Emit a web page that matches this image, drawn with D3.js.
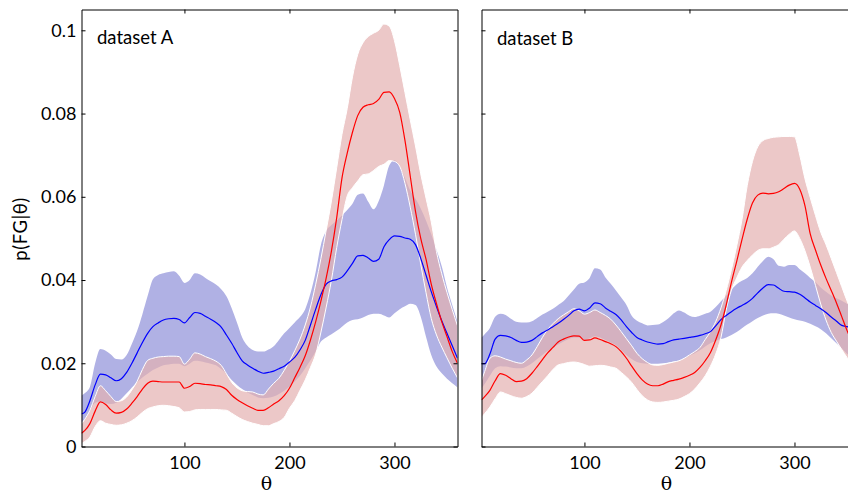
<!DOCTYPE html>
<html>
<head>
<meta charset="utf-8">
<script src="https://cdn.jsdelivr.net/npm/d3@7"></script>
<style>
  html, body { margin: 0; padding: 0; background: #fff; }
</style>
</head>
<body>
<div id="chart"></div>
<script>
// angle samples shared by every series
const theta = [2, 5, 10, 15, 20, 25, 30, 35, 40, 45, 50, 55, 60, 65, 70, 75, 80, 85, 90, 95,
  100, 105, 110, 115, 120, 125, 130, 135, 140, 145, 150, 155, 160, 165, 170, 175, 180, 185, 190, 195,
  200, 205, 210, 215, 220, 225, 230, 235, 240, 245, 250, 255, 260, 265, 270, 275, 280, 285, 290, 295,
  300, 305, 310, 315, 320, 325, 330, 335, 340, 345, 350, 355, 360];

// dataset A
const blueMeanA = [0.0078,0.0082,0.0110,0.0148,0.0174,0.0172,0.0165,0.0158,0.0163,0.0178,
  0.0200,0.0225,0.0250,0.0272,0.0288,0.0297,0.0304,0.0307,0.0308,0.0305,
  0.0297,0.0310,0.0322,0.0320,0.0313,0.0306,0.0298,0.0287,0.0268,0.0248,
  0.0226,0.0206,0.0196,0.0188,0.0181,0.0176,0.0178,0.0181,0.0187,0.0193,
  0.0203,0.0214,0.0232,0.0255,0.0292,0.0330,0.0365,0.0390,0.0398,0.0401,
  0.0407,0.0422,0.0440,0.0458,0.0459,0.0453,0.0445,0.0450,0.0480,0.0497,
  0.0506,0.0505,0.0501,0.0498,0.0485,0.0452,0.0412,0.0372,0.0336,0.0302,
  0.0272,0.0242,0.0212];
const blueHiA = [0.0122,0.0128,0.0143,0.0200,0.0234,0.0230,0.0221,0.0210,0.0209,0.0220,
  0.0247,0.0278,0.0318,0.0362,0.0402,0.0412,0.0416,0.0419,0.0421,0.0410,
  0.0393,0.0400,0.0416,0.0413,0.0405,0.0397,0.0389,0.0378,0.0361,0.0332,
  0.0298,0.0262,0.0242,0.0232,0.0228,0.0228,0.0233,0.0241,0.0256,0.0272,
  0.0285,0.0298,0.0311,0.0330,0.0368,0.0420,0.0485,0.0518,0.0532,0.0543,
  0.0555,0.0568,0.0583,0.0605,0.0608,0.0588,0.0570,0.0590,0.0628,0.0675,
  0.0688,0.0673,0.0645,0.0615,0.0595,0.0572,0.0543,0.0510,0.0473,0.0433,
  0.0382,0.0340,0.0300];
const blueLoA = [0.0058,0.0065,0.0085,0.0105,0.0108,0.0104,0.0102,0.0105,0.0115,0.0128,
  0.0142,0.0155,0.0166,0.0175,0.0184,0.0190,0.0195,0.0197,0.0199,0.0199,
  0.0193,0.0199,0.0206,0.0205,0.0202,0.0199,0.0195,0.0186,0.0174,0.0160,
  0.0148,0.0138,0.0130,0.0124,0.0118,0.0116,0.0117,0.0120,0.0126,0.0134,
  0.0144,0.0156,0.0170,0.0188,0.0207,0.0228,0.0252,0.0262,0.0270,0.0278,
  0.0288,0.0298,0.0304,0.0306,0.0310,0.0316,0.0319,0.0319,0.0315,0.0310,
  0.0320,0.0330,0.0337,0.0343,0.0340,0.0312,0.0264,0.0220,0.0192,0.0176,
  0.0163,0.0152,0.0142];
const redMeanA = [0.0032,0.0038,0.0055,0.0085,0.0107,0.0101,0.0088,0.0080,0.0082,0.0090,
  0.0104,0.0120,0.0138,0.0152,0.0157,0.0156,0.0155,0.0155,0.0155,0.0155,
  0.0140,0.0144,0.0152,0.0151,0.0149,0.0148,0.0146,0.0144,0.0137,0.0123,
  0.0113,0.0105,0.0098,0.0092,0.0087,0.0087,0.0093,0.0102,0.0110,0.0122,
  0.0140,0.0165,0.0190,0.0218,0.0256,0.0300,0.0350,0.0405,0.0470,0.0550,
  0.0645,0.0705,0.0755,0.0795,0.0815,0.0821,0.0824,0.0834,0.0851,0.0852,
  0.0836,0.0803,0.0735,0.0650,0.0565,0.0500,0.0450,0.0390,0.0343,0.0300,
  0.0264,0.0228,0.0200];
const redHiA = [0.0054,0.0065,0.0087,0.0120,0.0146,0.0134,0.0120,0.0108,0.0110,0.0119,
  0.0136,0.0157,0.0185,0.0207,0.0212,0.0215,0.0216,0.0217,0.0217,0.0216,
  0.0198,0.0210,0.0225,0.0222,0.0216,0.0211,0.0205,0.0195,0.0175,0.0154,
  0.0141,0.0134,0.0132,0.0131,0.0126,0.0124,0.0138,0.0152,0.0164,0.0183,
  0.0205,0.0230,0.0258,0.0292,0.0335,0.0390,0.0452,0.0520,0.0590,0.0670,
  0.0750,0.0812,0.0888,0.0942,0.0970,0.0985,0.0993,0.1000,0.1015,0.1010,
  0.0975,0.0915,0.0850,0.0785,0.0722,0.0655,0.0597,0.0540,0.0468,0.0415,
  0.0370,0.0329,0.0290];
const redLoA = [0.0007,0.0012,0.0023,0.0048,0.0062,0.0056,0.0053,0.0051,0.0052,0.0056,
  0.0062,0.0071,0.0082,0.0091,0.0095,0.0098,0.0099,0.0098,0.0096,0.0093,
  0.0083,0.0084,0.0088,0.0089,0.0089,0.0089,0.0089,0.0088,0.0087,0.0080,
  0.0072,0.0065,0.0060,0.0056,0.0053,0.0050,0.0050,0.0055,0.0060,0.0070,
  0.0092,0.0110,0.0135,0.0160,0.0190,0.0222,0.0275,0.0335,0.0400,0.0478,
  0.0545,0.0602,0.0622,0.0638,0.0653,0.0655,0.0663,0.0673,0.0678,0.0687,
  0.0685,0.0673,0.0632,0.0575,0.0510,0.0438,0.0370,0.0308,0.0268,0.0239,
  0.0213,0.0188,0.0165];

// dataset B
const blueMeanB = [0.0199,0.0199,0.0222,0.0258,0.0267,0.0266,0.0262,0.0255,0.0250,0.0251,
  0.0255,0.0264,0.0273,0.0280,0.0288,0.0296,0.0305,0.0315,0.0326,0.0330,
  0.0326,0.0333,0.0345,0.0343,0.0333,0.0325,0.0317,0.0304,0.0288,0.0274,
  0.0262,0.0256,0.0251,0.0248,0.0246,0.0247,0.0252,0.0256,0.0258,0.0260,
  0.0262,0.0264,0.0267,0.0271,0.0276,0.0290,0.0305,0.0315,0.0324,0.0332,
  0.0339,0.0346,0.0356,0.0369,0.0381,0.0389,0.0388,0.0380,0.0373,0.0372,
  0.0371,0.0366,0.0357,0.0347,0.0339,0.0331,0.0322,0.0311,0.0301,0.0291,
  0.0288,0.0286,0.0285];
const blueHiB = [0.0262,0.0270,0.0285,0.0312,0.0319,0.0316,0.0307,0.0300,0.0298,0.0298,
  0.0301,0.0309,0.0317,0.0324,0.0331,0.0340,0.0349,0.0363,0.0377,0.0391,
  0.0394,0.0405,0.0428,0.0425,0.0406,0.0391,0.0375,0.0358,0.0340,0.0314,
  0.0302,0.0296,0.0291,0.0292,0.0293,0.0299,0.0308,0.0320,0.0327,0.0322,
  0.0314,0.0311,0.0314,0.0319,0.0324,0.0335,0.0349,0.0362,0.0377,0.0390,
  0.0398,0.0405,0.0416,0.0432,0.0446,0.0456,0.0450,0.0434,0.0432,0.0436,
  0.0436,0.0426,0.0416,0.0405,0.0395,0.0382,0.0372,0.0363,0.0356,0.0350,
  0.0343,0.0338,0.0333];
const blueLoB = [0.0140,0.0150,0.0170,0.0188,0.0193,0.0192,0.0190,0.0188,0.0188,0.0192,
  0.0200,0.0210,0.0220,0.0230,0.0238,0.0245,0.0252,0.0258,0.0262,0.0262,
  0.0256,0.0260,0.0265,0.0262,0.0256,0.0250,0.0243,0.0232,0.0220,0.0210,
  0.0203,0.0200,0.0199,0.0199,0.0199,0.0200,0.0202,0.0204,0.0206,0.0212,
  0.0218,0.0224,0.0231,0.0240,0.0248,0.0254,0.0258,0.0262,0.0268,0.0275,
  0.0284,0.0293,0.0301,0.0309,0.0315,0.0319,0.0320,0.0319,0.0315,0.0310,
  0.0306,0.0303,0.0300,0.0295,0.0289,0.0282,0.0272,0.0260,0.0248,0.0236,
  0.0223,0.0212,0.0200];
const redMeanB = [0.0112,0.0120,0.0135,0.0158,0.0175,0.0171,0.0163,0.0156,0.0157,0.0163,
  0.0176,0.0192,0.0209,0.0225,0.0238,0.0251,0.0258,0.0263,0.0266,0.0265,
  0.0255,0.0256,0.0261,0.0257,0.0252,0.0247,0.0240,0.0228,0.0212,0.0193,
  0.0175,0.0160,0.0150,0.0146,0.0146,0.0150,0.0156,0.0159,0.0162,0.0166,
  0.0171,0.0178,0.0190,0.0206,0.0226,0.0256,0.0292,0.0340,0.0395,0.0445,
  0.0497,0.0546,0.0585,0.0604,0.0609,0.0607,0.0608,0.0612,0.0620,0.0628,
  0.0632,0.0618,0.0578,0.0511,0.0472,0.0436,0.0404,0.0375,0.0345,0.0312,
  0.0279,0.0250,0.0222];
const redHiB = [0.0158,0.0180,0.0212,0.0218,0.0215,0.0210,0.0206,0.0202,0.0200,0.0208,
  0.0220,0.0240,0.0262,0.0281,0.0295,0.0307,0.0316,0.0324,0.0331,0.0326,
  0.0318,0.0322,0.0328,0.0322,0.0315,0.0306,0.0292,0.0276,0.0259,0.0242,
  0.0224,0.0211,0.0202,0.0196,0.0195,0.0197,0.0200,0.0203,0.0206,0.0212,
  0.0220,0.0228,0.0238,0.0257,0.0276,0.0300,0.0333,0.0375,0.0425,0.0482,
  0.0545,0.0627,0.0685,0.0720,0.0735,0.0740,0.0743,0.0744,0.0745,0.0745,
  0.0744,0.0700,0.0643,0.0598,0.0555,0.0515,0.0485,0.0452,0.0418,0.0384,
  0.0350,0.0320,0.0290];
const redLoB = [0.0070,0.0079,0.0095,0.0115,0.0131,0.0127,0.0122,0.0118,0.0116,0.0120,
  0.0128,0.0142,0.0156,0.0170,0.0185,0.0196,0.0199,0.0202,0.0203,0.0201,
  0.0197,0.0193,0.0194,0.0195,0.0194,0.0191,0.0188,0.0178,0.0167,0.0154,
  0.0137,0.0122,0.0112,0.0107,0.0106,0.0107,0.0109,0.0111,0.0114,0.0120,
  0.0127,0.0138,0.0153,0.0170,0.0193,0.0222,0.0262,0.0328,0.0376,0.0405,
  0.0431,0.0447,0.0460,0.0471,0.0475,0.0475,0.0479,0.0485,0.0498,0.0510,
  0.0518,0.0500,0.0470,0.0431,0.0387,0.0342,0.0304,0.0274,0.0253,0.0233,
  0.0214,0.0198,0.0182];

const xTicks = [100, 200, 300];
const yTicks = [0, 0.02, 0.04, 0.06, 0.08, 0.1];
const panelLabels = ["dataset A", "dataset B"];

const width = 848, height = 493;
const plotTop = 9.5, plotBottom = 446.5, plotW = 376;
const sans = "Lato, 'Open Sans', sans-serif";

const svg = d3.select("#chart").append("svg")
    .attr("width", width)
    .attr("height", height);

const y = d3.scaleLinear().domain([0, 0.105]).range([plotBottom, plotTop]);

const panels = [
    { label: panelLabels[0], left: 81.5, yLabels: true,
      blue: [blueMeanA, blueLoA, blueHiA], red: [redMeanA, redLoA, redHiA] },
    { label: panelLabels[1], left: 481.5, yLabels: false,
      blue: [blueMeanB, blueLoB, blueHiB], red: [redMeanB, redLoB, redHiB] }
];

panels.forEach((p, k) => {
    const x = d3.scaleLinear().domain([2, 360]).range([p.left, p.left + plotW]);
    const g = svg.append("g");

    g.append("clipPath").attr("id", "clip" + k)
        .append("rect")
        .attr("x", p.left).attr("y", plotTop)
        .attr("width", plotW).attr("height", plotBottom - plotTop);

    const rows = (s) => theta.map((t, i) => ({ t: t, m: s[0][i], lo: s[1][i], hi: s[2][i] }));
    const blueRows = rows(p.blue);
    const redRows = rows(p.red);

    const band = d3.area()
        .x(d => x(d.t)).y0(d => y(d.lo)).y1(d => y(d.hi))
        .curve(d3.curveMonotoneX);
    const line = d3.line()
        .x(d => x(d.t)).y(d => y(d.m))
        .curve(d3.curveMonotoneX);

    const plot = g.append("g").attr("clip-path", `url(#clip${k})`);

    plot.append("path").datum(blueRows)
        .attr("d", band)
        .attr("fill", "#b0b1e4");
    plot.append("path").datum(redRows)
        .attr("d", band)
        .attr("fill", "#e4b0b0")
        .attr("fill-opacity", 0.7)
        .attr("stroke", "#ffffff")
        .attr("stroke-width", 1);
    plot.append("path").datum(blueRows)
        .attr("d", line)
        .attr("fill", "none")
        .attr("stroke", "#0000ff")
        .attr("stroke-width", 1.2);
    plot.append("path").datum(redRows)
        .attr("d", line)
        .attr("fill", "none")
        .attr("stroke", "#ff0000")
        .attr("stroke-width", 1.2);

    // box with inward ticks on all four sides
    const styleAxis = sel => {
        sel.attr("font-family", sans).attr("font-size", 18);
        sel.selectAll("text").attr("fill", "#000");
        sel.selectAll("line, path").attr("stroke", "#000");
    };
    g.append("g").attr("transform", `translate(0,${plotBottom})`)
        .call(d3.axisBottom(x).tickValues(xTicks).tickSize(-4).tickSizeOuter(0).tickPadding(10))
        .call(styleAxis);
    g.append("g").attr("transform", `translate(0,${plotTop})`)
        .call(d3.axisTop(x).tickValues(xTicks).tickSize(-4).tickSizeOuter(0).tickFormat(""))
        .call(styleAxis);
    g.append("g").attr("transform", `translate(${p.left},0)`)
        .call(d3.axisLeft(y).tickValues(yTicks).tickSize(-4).tickSizeOuter(0).tickPadding(5)
            .tickFormat(p.yLabels ? d3.format("~g") : ""))
        .call(styleAxis);
    g.append("g").attr("transform", `translate(${p.left + plotW},0)`)
        .call(d3.axisRight(y).tickValues(yTicks).tickSize(-4).tickSizeOuter(0).tickFormat(""))
        .call(styleAxis);

    g.append("text")
        .attr("x", p.left + 15.5)
        .attr("y", 44 + k)
        .attr("font-family", sans)
        .attr("font-size", 18.5)
        .text(p.label);

    g.append("text")
        .attr("x", p.left + plotW / 2 - 3)
        .attr("y", 490)
        .attr("text-anchor", "middle")
        .attr("font-family", "'DejaVu Serif', serif")
        .attr("font-size", 19)
        .text("θ");
});

svg.append("text")
    .attr("transform", "translate(27,229) rotate(-90)")
    .attr("text-anchor", "middle")
    .attr("font-family", sans)
    .attr("font-size", 18.5)
    .attr("letter-spacing", 0.5)
    .text("p(FG|θ)");
</script>
</body>
</html>
